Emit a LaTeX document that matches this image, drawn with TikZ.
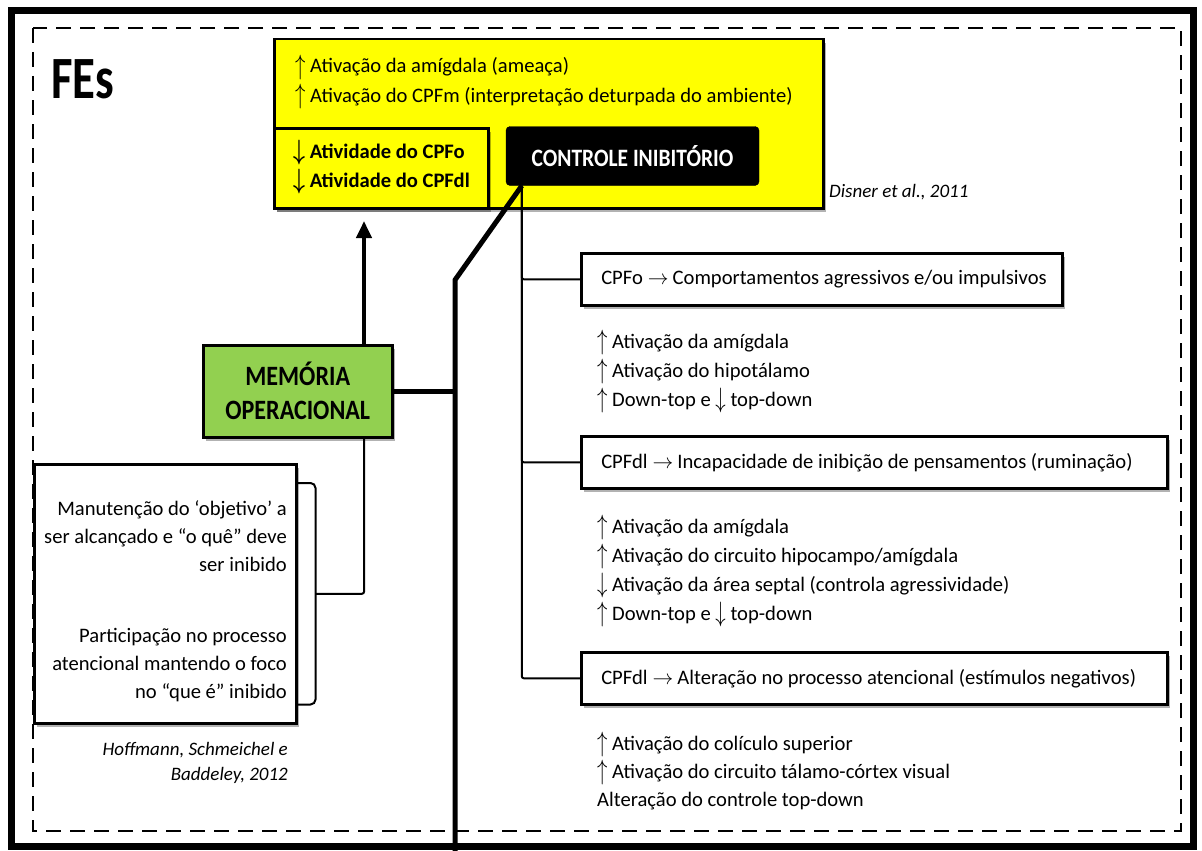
\documentclass[tikz,border=0pt]{standalone}
\usepackage{fontspec}
\usepackage{graphicx}
\setmainfont{Carlito}
\newfontfamily\estreita[FakeStretch=0.86]{Carlito}
\newfontfamily\titulo[FakeStretch=0.78]{Carlito}
\usetikzlibrary{positioning,shadows,arrows.meta}
\definecolor{amarelo}{HTML}{FFFF00}
\definecolor{verde}{HTML}{92D050}
\newcommand{\texto}{\fontsize{20.6}{29}\selectfont}
\newcommand{\cita}{\fontsize{19}{25}\selectfont\itshape}
\newcommand{\sobe}{\raisebox{-1.5pt}{\scalebox{1}[1.35]{$\uparrow$}}}
\newcommand{\desce}{\raisebox{-1.5pt}{\scalebox{1}[1.35]{$\downarrow$}}}
\newcommand{\seta}{\hspace{5pt}$\rightarrow$\hspace{4pt}}

\begin{document}
\begin{tikzpicture}[x=1pt,y=-1pt,
    every node/.style={inner sep=0pt,font=\texto},
    caixa/.style={draw,line width=2.5pt,fill=white,anchor=north west,
        drop shadow={shadow xshift=3pt,shadow yshift=-4pt,opacity=.3,fill=black}},
    ramo/.style={caixa,minimum height=52,inner xsep=20pt},
    linha/.style={anchor=base west},
    linhad/.style={anchor=base east},
    fina/.style={line width=2pt,rounded corners=2pt},
    grossa/.style={line width=5pt}]
    \useasboundingbox (0,0) rectangle (1202,851);
    % moldura
    \draw[line width=7pt] (11,11) rectangle (1193,846);
    \draw[line width=2.5pt,dash pattern=on 15pt off 9pt] (33,28) rectangle (1181,831);
    \node[anchor=base west,font=\titulo\fontsize{60}{60}\selectfont\bfseries] (fes) at (51,98) {FEs};

    % bloco amarelo
    \node[caixa,fill=amarelo,minimum width=549,minimum height=169] (ameaca) at (273,38) {};
    \foreach \t [count=\i] in {{\sobe\ Ativação da amígdala (ameaça)},
        {\sobe\ Ativação do CPFm (interpretação deturpada do ambiente)}}
        \node[linha] (ama-\i) at (295,44+29*\i) {\t};
    \node[caixa,fill=amarelo,minimum width=214,minimum height=80] (cpfo) at (273,127) {};
    \foreach \t [count=\i] in {{\desce\ Atividade do CPFo},{\desce\ Atividade do CPFdl}}
        \node[linha,font=\texto\bfseries\boldmath] (ativ-\i) at (293,129+29*\i) {\t};
    \node[draw,fill=black,rounded corners=4pt,minimum width=253,minimum height=59,text=white,
        font=\estreita\fontsize{25}{25}\selectfont\bfseries] (controle) at (632.5,156) {CONTROLE INIBITÓRIO};
    \node[linha,font=\cita] (disner) at (829,197) {Disner et al., 2011};

    % memoria operacional
    \node[caixa,fill=verde,minimum width=189,minimum height=92,align=center,
        font=\estreita\fontsize{28}{34}\selectfont\bfseries] (memoria) at (202,344) {MEMÓRIA\\OPERACIONAL};
    \node[caixa,minimum width=262,minimum height=259] (objetivo) at (33,463) {};
    \foreach \t [count=\i] in {{Manutenção do ‘objetivo’ a},{ser alcançado e “o quê” deve},{ser inibido}}
        \node[linhad] (manut-\i) at (287,487+28*\i) {\t};
    \foreach \t [count=\i] in {{Participação no processo},{atencional mantendo o foco},{no “que é” inibido}}
        \node[linhad] (partic-\i) at (287,614+28*\i) {\t};
    \foreach \t [count=\i] in {{Hoffmann, Schmeichel e},{Baddeley, 2012}}
        \node[linhad,font=\cita] (hoff-\i) at (288,730+25*\i) {\t};

    % ramos do controle inibitorio
    \node[ramo,minimum width=481] (cx1) at (580,252)
        {\makebox[441pt][l]{CPFo\seta Comportamentos agressivos e/ou impulsivos}};
    \node[ramo,minimum width=586] (cx2) at (580,435)
        {\makebox[546pt][l]{CPFdl\seta Incapacidade de inibição de pensamentos (ruminação)}};
    \node[ramo,minimum width=586] (cx3) at (580,651)
        {\makebox[546pt][l]{CPFdl\seta Alteração no processo atencional (estímulos negativos)}};
    \foreach \t [count=\i] in {{\sobe\ Ativação da amígdala},{\sobe\ Ativação do hipotálamo},
        {\sobe\ Down-top e \desce\ top-down}}
        \node[linha] (lista1-\i) at (597,319+29*\i) {\t};
    \foreach \t [count=\i] in {{\sobe\ Ativação da amígdala},{\sobe\ Ativação do circuito hipocampo/amígdala},
        {\desce\ Ativação da área septal (controla agressividade)},{\sobe\ Down-top e \desce\ top-down}}
        \node[linha] (lista2-\i) at (597,504+29*\i) {\t};
    \foreach \t [count=\i] in {{\sobe\ Ativação do colículo superior},
        {\sobe\ Ativação do circuito tálamo-córtex visual},{Alteração do controle top-down}}
        \node[linha] (lista3-\i) at (597,722+28*\i) {\t};

    % conexoes
    \coordinate (tronco) at ([xshift=16pt]controle.south west);
    \coordinate (dobra) at (455,280);
    \coordinate (fim) at (455,851);
    \coordinate (ponta) at (364,221);
    \coordinate (chave) at ([xshift=18pt]objetivo.east);
    \draw[grossa] (tronco) -- (dobra) -- (fim);
    \draw[grossa] (memoria.east) -- (memoria.east -| dobra);
    \draw[fina] (tronco) |- (cx1.west);
    \draw[fina] (tronco) |- (cx2.west);
    \draw[fina] (tronco) |- (cx3.west);
    \draw[line width=4pt,-{Triangle[length=17pt,width=15pt]}] (memoria.north -| ponta) -- (ponta);
    \draw[fina] (memoria.south -| ponta) |- (chave);
    \draw[fina,rounded corners=5pt] ([yshift=-20pt]objetivo.north east) -| (chave) |- ([yshift=20pt]objetivo.south east);
\end{tikzpicture}
\end{document}
